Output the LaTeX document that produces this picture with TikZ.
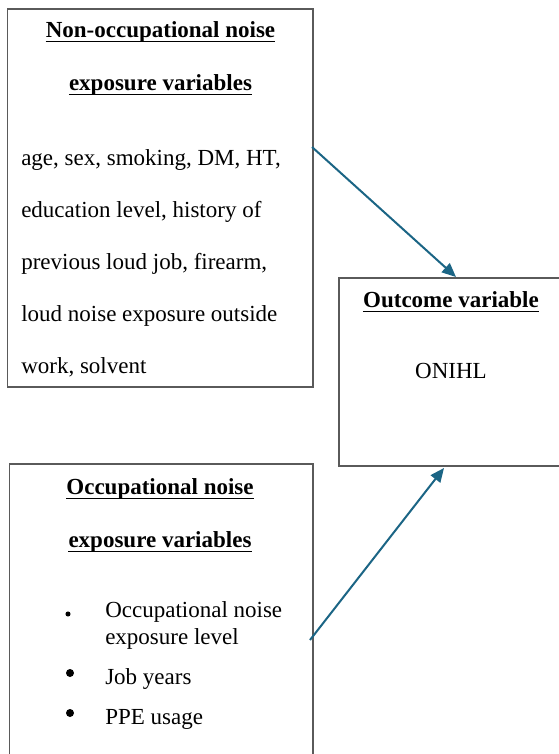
\documentclass[tikz,border=0pt]{standalone}
\usepackage{fontspec}
\setmainfont{Liberation Serif}
\usetikzlibrary{arrows.meta,calc}

\definecolor{framegray}{HTML}{5A5A5A}
\definecolor{flowblue}{HTML}{1B6585}

\tikzset{
  panel/.style={draw=framegray, line width=0.9pt, rectangle, inner sep=0pt},
  txt/.style={inner sep=0pt, font=\fontsize{17.25pt}{20pt}\selectfont},
  head/.style={txt, anchor=base, font=\fontsize{17.25pt}{20pt}\selectfont\bfseries},
  body/.style={txt, anchor=base west},
  flow/.style={draw=flowblue, line width=1.5pt,
    -{Triangle[length=10.5pt,width=9pt]}},
  dot/.style={circle, fill=black, inner sep=0pt}
}
% draw a rule under a heading node, just below its baseline
\newcommand{\headrule}[1]{%
  \draw[line width=1.3pt] ([yshift=-3.4pt]#1.base west) -- ([yshift=-3.4pt]#1.base east);}

\begin{document}
\begin{tikzpicture}[x=0.75pt, y=-0.75pt]
\useasboundingbox (0,0) rectangle (559,754);
\clip (0,0) rectangle (559,754);
\fill[white] (0,0) rectangle (559,754);

% three panels
\node[panel, minimum width=229.125pt, minimum height=283.5pt] (box1) at (160.25,198) {};
\node[panel, minimum width=227.625pt, minimum height=237pt] (box2) at (161.25,622) {};
\node[panel, minimum width=180.75pt, minimum height=141pt] (box3) at (459.5,372) {};

% non-occupational panel
\node[head] (h1a) at (160.5,37) {Non-occupational noise};
\node[head] (h1b) at (160.5,90) {exposure variables};
\headrule{h1a}
\headrule{h1b}
\node[body] (l1) at (21,165) {age, sex, smoking, DM, HT,};
\node[body] (l2) at (21,217) {education level, history of};
\node[body] (l3) at (21,269) {previous loud job, firearm,};
\node[body] (l4) at (21,321) {loud noise exposure outside};
\node[body] (l5) at (21,373) {work, solvent};

% occupational panel
\node[head] (h2a) at (160,494) {Occupational noise};
\node[head] (h2b) at (160,547) {exposure variables};
\headrule{h2a}
\headrule{h2b}
\node[dot, minimum size=3.8pt] (b1) at (68,614) {};
\node[body] (o1) at (105,617) {Occupational noise};
\node[body] (o2) at (105,644) {exposure level};
\node[dot, minimum size=6pt] (b2) at (70,673) {};
\node[body] (o3) at (105,684) {Job years};
\node[dot, minimum size=6pt] (b3) at (70,713) {};
\node[body] (o4) at (105,724) {PPE usage};

% outcome panel
\node[head] (h3) at (451,307) {Outcome variable};
\headrule{h3}
\node[txt, anchor=base] (onihl) at (451,378) {ONIHL};

% connectors
\coordinate (s1) at (312,147);
\coordinate (t1) at (456,277);
\coordinate (s2) at (310,640);
\coordinate (t2) at (444,468);
\draw[flow] (s1) -- (t1);
\draw[flow] (s2) -- (t2);
\end{tikzpicture}
\end{document}
